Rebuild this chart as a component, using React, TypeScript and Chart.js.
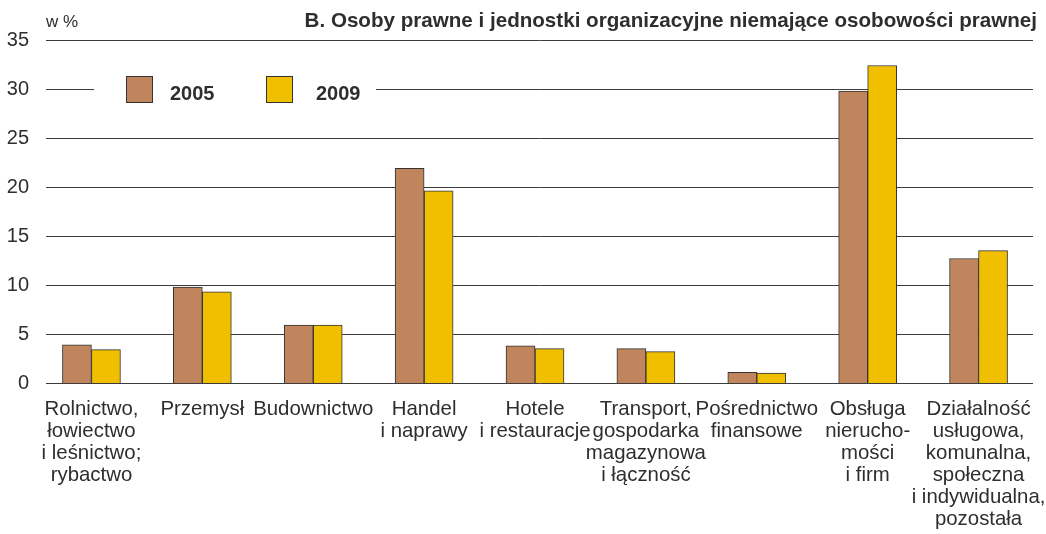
import React, { useEffect, useRef } from 'react';
import { Chart, registerables } from 'chart.js';

Chart.register(...registerables);

const categories: (string | string[])[] = [
  ['Rolnictwo,', 'łowiectwo', 'i leśnictwo;', 'rybactwo'],
  'Przemysł',
  'Budownictwo',
  ['Handel', 'i naprawy'],
  ['Hotele', 'i restauracje'],
  ['Transport,', 'gospodarka', 'magazynowa', 'i łączność'],
  ['Pośrednictwo', 'finansowe'],
  ['Obsługa', 'nierucho-', 'mości', 'i firm'],
  ['Działalność', 'usługowa,', 'komunalna,', 'społeczna', 'i indywidualna,', 'pozostała'],
];

const seriesLabels = ['2005', '2009'];
const values2005 = [3.9, 9.8, 5.9, 21.9, 3.8, 3.5, 1.1, 29.8, 12.7];
const values2009 = [3.4, 9.3, 5.9, 19.6, 3.5, 3.2, 1.0, 32.4, 13.5];
const yTicks = [0, 5, 10, 15, 20, 25, 30, 35];

const titleText = 'B. Osoby prawne i jednostki organizacyjne niemające osobowości prawnej';
const unitText = 'w %';

const FONT = '"Liberation Sans", Arial, Helvetica, sans-serif';
const TEXT_COLOR = '#2e2e2e';
const COLORS = ['#C0855D', '#F0C000'];
const BORDER = '#333333';

const overlayPlugin = {
  id: 'overlay',
  beforeDatasetsDraw(chart: any) {
    const { ctx, scales } = chart;
    const y = scales.y;
    ctx.save();
    // grid lines
    ctx.strokeStyle = '#3c3c3c';
    ctx.lineWidth = 1;
    const gl = 46;
    const gr = 1033;
    yTicks.forEach((v) => {
      const py = Math.round(y.getPixelForValue(v)) + 0.5;
      ctx.beginPath();
      ctx.moveTo(gl, py);
      ctx.lineTo(gr, py);
      ctx.stroke();
    });
    // legend box
    const ly = Math.round(y.getPixelForValue(30));
    ctx.fillStyle = '#ffffff';
    ctx.fillRect(94, ly - 16, 282, 32);
    const swX = [126, 266];
    const txX = [170, 316];
    chart.data.datasets.forEach((ds: any, i: number) => {
      ctx.fillStyle = ds.backgroundColor;
      ctx.fillRect(swX[i], ly - 13, 27, 27);
      ctx.strokeStyle = BORDER;
      ctx.lineWidth = 1;
      ctx.strokeRect(swX[i] + 0.5, ly - 12.5, 26, 26);
      ctx.fillStyle = TEXT_COLOR;
      ctx.font = `bold 20px ${FONT}`;
      ctx.textAlign = 'left';
      ctx.textBaseline = 'alphabetic';
      ctx.fillText(ds.label, txX[i], ly + 11);
    });
    ctx.restore();
  },
  afterDraw(chart: any) {
    const { ctx } = chart;
    ctx.save();
    ctx.fillStyle = TEXT_COLOR;
    ctx.textBaseline = 'alphabetic';
    ctx.font = `bold 20.6px ${FONT}`;
    ctx.textAlign = 'right';
    ctx.fillText(titleText, 1037, 27);
    ctx.font = `17px ${FONT}`;
    ctx.textAlign = 'left';
    ctx.fillText(unitText, 46, 27);
    ctx.restore();
  },
};

export default function App() {
  const canvasRef = useRef<HTMLCanvasElement | null>(null);

  useEffect(() => {
    document.body.style.margin = '0';
    const canvas = canvasRef.current;
    if (!canvas) return;
    const chart = new Chart(canvas, {
      type: 'bar',
      data: {
        labels: categories,
        datasets: [
          {
            label: seriesLabels[0],
            data: values2005,
            backgroundColor: COLORS[0],
            borderColor: BORDER,
            borderWidth: 1,
            barThickness: 29,
          },
          {
            label: seriesLabels[1],
            data: values2009,
            backgroundColor: COLORS[1],
            borderColor: BORDER,
            borderWidth: 1,
            barThickness: 29,
          },
        ],
      },
      options: {
        responsive: false,
        animation: false,
        events: [],
        layout: { padding: { top: 40, left: 0, right: 12, bottom: 0 } },
        plugins: {
          legend: { display: false },
          tooltip: { enabled: false },
          title: { display: false },
        },
        scales: {
          x: {
            offset: true,
            grid: { display: false, drawTicks: false },
            border: { display: false },
            ticks: {
              autoSkip: false,
              maxRotation: 0,
              minRotation: 0,
              padding: 15,
              color: TEXT_COLOR,
              font: { family: FONT, size: 20.4, lineHeight: 1.08 },
            },
            afterFit(scale: any) {
              scale.height = 151;
              scale.paddingLeft = 0;
              scale.paddingRight = 0;
            },
          },
          y: {
            min: 0,
            max: 35,
            grid: { display: false, drawTicks: false },
            border: { display: false },
            ticks: {
              stepSize: 5,
              padding: 7,
              color: TEXT_COLOR,
              font: { family: FONT, size: 20 },
            },
            afterFit(scale: any) {
              scale.width = 36;
            },
          },
        },
      },
      plugins: [overlayPlugin],
    });
    return () => chart.destroy();
  }, []);

  return (
    <div style={{ width: 1046, height: 534 }}>
      <canvas ref={canvasRef} width={1046} height={534} style={{ display: 'block' }} />
    </div>
  );
}
